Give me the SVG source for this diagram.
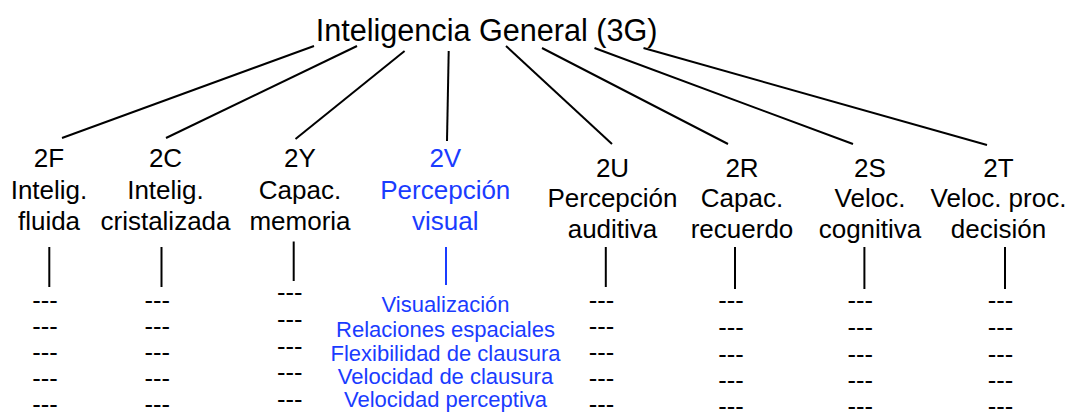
<svg xmlns="http://www.w3.org/2000/svg" width="1069" height="412" viewBox="0 0 1069 412">
<style>
text{font-family:"Liberation Sans",Arial,sans-serif;fill:#000;text-anchor:middle}
.title{font-size:30.6px}
.lbl{font-size:26px}
.dash{font-size:25.5px}
.blue{fill:#1a3cff}
.sub{font-size:22px}
.conn line{stroke:#000;stroke-width:2;stroke-linecap:butt}
.conn line.b{stroke:#1a3cff}
</style>
<rect width="1069" height="412" fill="#fff"/>
<g id="connectors" class="conn">
<line x1="314" y1="46" x2="62" y2="138"/>
<line x1="357" y1="46" x2="166" y2="138"/>
<line x1="404.6" y1="51" x2="295.5" y2="139"/>
<line x1="448.7" y1="51" x2="447" y2="141"/>
<line x1="506" y1="46" x2="612" y2="144"/>
<line x1="542" y1="48" x2="728" y2="144"/>
<line x1="594.5" y1="48" x2="853" y2="144"/>
<line x1="643.5" y1="48" x2="987" y2="145"/>
<line x1="49.3" y1="247" x2="49.3" y2="287"/>
<line x1="161.5" y1="247" x2="161.5" y2="287"/>
<line x1="293.7" y1="241.5" x2="293.7" y2="281"/>
<line class="b" x1="446" y1="247" x2="446" y2="285"/>
<line x1="605.8" y1="247" x2="605.8" y2="287"/>
<line x1="735" y1="247" x2="735" y2="289"/>
<line x1="864.4" y1="247" x2="864.4" y2="289"/>
<line x1="1005" y1="247" x2="1005" y2="289"/>
</g>
<g id="n3G"><text class="title" x="486.6" y="40.6">Inteligencia General (3G)</text></g>
<g id="n2F">
<text class="lbl" x="49"><tspan x="49" y="167">2F</tspan><tspan x="49" y="198.5">Intelig.</tspan><tspan x="49" y="230">fluida</tspan></text>
<text class="dash" x="45"><tspan x="45" y="308.5">---</tspan><tspan x="45" y="334.7">---</tspan><tspan x="45" y="361.3">---</tspan><tspan x="45" y="387.3">---</tspan><tspan x="45" y="413">---</tspan></text>
</g>
<g id="n2C">
<text class="lbl" x="165.5"><tspan x="165.5" y="167">2C</tspan><tspan x="165.5" y="198.5">Intelig.</tspan><tspan x="165.5" y="230">cristalizada</tspan></text>
<text class="dash" x="157.3"><tspan x="157.3" y="308.5">---</tspan><tspan x="157.3" y="334.7">---</tspan><tspan x="157.3" y="361.3">---</tspan><tspan x="157.3" y="387.3">---</tspan><tspan x="157.3" y="413">---</tspan></text>
</g>
<g id="n2Y">
<text class="lbl" x="300"><tspan x="300" y="167">2Y</tspan><tspan x="300" y="198.5">Capac.</tspan><tspan x="300" y="230">memoria</tspan></text>
<text class="dash" x="289.7"><tspan x="289.7" y="301">---</tspan><tspan x="289.7" y="328.3">---</tspan><tspan x="289.7" y="354.7">---</tspan><tspan x="289.7" y="380.7">---</tspan><tspan x="289.7" y="407.7">---</tspan></text>
</g>
<g id="n2V">
<text class="lbl blue" x="445.3"><tspan x="445.3" y="167">2V</tspan><tspan x="445.3" y="198.5">Percepción</tspan><tspan x="445.3" y="230">visual</tspan></text>
<text class="sub blue" x="445.5"><tspan x="445.5" y="312.3">Visualización</tspan><tspan x="445.5" y="337">Relaciones espaciales</tspan><tspan x="445.5" y="360.7">Flexibilidad de clausura</tspan><tspan x="445.5" y="384">Velocidad de clausura</tspan><tspan x="445.5" y="407.3">Velocidad perceptiva</tspan></text>
</g>
<g id="n2U">
<text class="lbl" x="612.5"><tspan x="612.5" y="176.5">2U</tspan><tspan x="612.5" y="207">Percepción</tspan><tspan x="612.5" y="237.5">auditiva</tspan></text>
<text class="dash" x="601.6"><tspan x="601.6" y="308.5">---</tspan><tspan x="601.6" y="334.7">---</tspan><tspan x="601.6" y="361.3">---</tspan><tspan x="601.6" y="387.3">---</tspan><tspan x="601.6" y="413">---</tspan></text>
</g>
<g id="n2R">
<text class="lbl" x="742"><tspan x="742" y="176.5">2R</tspan><tspan x="742" y="207">Capac.</tspan><tspan x="742" y="237.5">recuerdo</tspan></text>
<text class="dash" x="730.9"><tspan x="730.9" y="309.3">---</tspan><tspan x="730.9" y="336.3">---</tspan><tspan x="730.9" y="362.7">---</tspan><tspan x="730.9" y="388.7">---</tspan><tspan x="730.9" y="415">---</tspan></text>
</g>
<g id="n2S">
<text class="lbl" x="870"><tspan x="870" y="176.5">2S</tspan><tspan x="870" y="207">Veloc.</tspan><tspan x="870" y="237.5">cognitiva</tspan></text>
<text class="dash" x="860.3"><tspan x="860.3" y="309.3">---</tspan><tspan x="860.3" y="336.3">---</tspan><tspan x="860.3" y="362.7">---</tspan><tspan x="860.3" y="388.7">---</tspan><tspan x="860.3" y="415">---</tspan></text>
</g>
<g id="n2T">
<text class="lbl" x="998.5"><tspan x="998.5" y="176.5">2T</tspan><tspan x="998.5" y="207">Veloc. proc.</tspan><tspan x="998.5" y="237.5">decisión</tspan></text>
<text class="dash" x="1000.4"><tspan x="1000.4" y="309.3">---</tspan><tspan x="1000.4" y="336.3">---</tspan><tspan x="1000.4" y="362.7">---</tspan><tspan x="1000.4" y="388.7">---</tspan><tspan x="1000.4" y="415">---</tspan></text>
</g>
</svg>
